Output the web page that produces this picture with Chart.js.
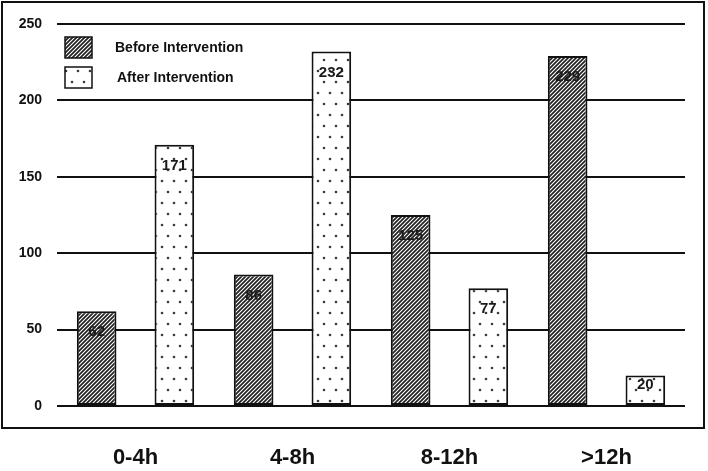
<!DOCTYPE html>
<html>
<head>
<meta charset="utf-8">
<script src="https://cdn.jsdelivr.net/npm/chart.js@4/dist/chart.umd.min.js"></script>
<style>
  html, body { margin: 0; padding: 0; background: #fff; }
  #wrap { width: 708px; height: 471px; position: relative; }
</style>
</head>
<body>
<div id="wrap"><canvas id="c" width="708" height="471"></canvas></div>
<script>
const categories = ["0-4h", "4-8h", "8-12h", ">12h"];
const seriesNames = ["Before Intervention", "After Intervention"];
const beforeValues = [62, 86, 125, 229];
const afterValues = [171, 232, 77, 20];
const yTicks = [0, 50, 100, 150, 200, 250];

function hatchPattern(ctx) {
  const s = 4;
  const c = document.createElement('canvas');
  c.width = s; c.height = s;
  const g = c.getContext('2d');
  g.fillStyle = '#222222';
  g.fillRect(0, 0, s, s);
  g.strokeStyle = '#ffffff';
  g.lineWidth = 1.1;
  g.beginPath();
  g.moveTo(-1, s + 1); g.lineTo(s + 1, -1);
  g.moveTo(-1, 1); g.lineTo(1, -1);
  g.moveTo(s - 1, s + 1); g.lineTo(s + 1, s - 1);
  g.stroke();
  return ctx.createPattern(c, 'repeat');
}
function dotPattern(ctx) {
  const w = 24, h = 22;
  const c = document.createElement('canvas');
  c.width = w; c.height = h;
  const g = c.getContext('2d');
  g.fillStyle = '#ffffff';
  g.fillRect(0, 0, w, h);
  g.fillStyle = '#3a3a3a';
  [[6, 5], [18, 5], [0, 16], [12, 16], [24, 16]].forEach(p => {
    g.beginPath(); g.arc(p[0], p[1], 1.3, 0, Math.PI * 2); g.fill();
  });
  return ctx.createPattern(c, 'repeat');
}

const ctx = document.getElementById('c').getContext('2d');
const hatch = hatchPattern(ctx);
const dots = dotPattern(ctx);

const framePlugin = {
  id: 'frame',
  afterDraw(chart) {
    const c = chart.ctx;
    c.save();
    // outer frame
    c.strokeStyle = '#111';
    c.lineWidth = 2;
    c.strokeRect(2, 2, 702, 426);
    // legend
    const fills = [hatch, dots];
    c.font = 'bold 14px "Liberation Sans", Arial, sans-serif';
    c.textBaseline = 'middle';
    c.textAlign = 'left';
    seriesNames.forEach((name, i) => {
      const y = 37 + i * 30;
      c.fillStyle = fills[i];
      c.fillRect(65, y, 27, 21);
      c.lineWidth = 1.5;
      c.strokeStyle = '#111';
      c.strokeRect(65, y, 27, 21);
      c.fillStyle = '#111';
      c.fillText(name, 115 + i * 2, y + 11);
    });
    // value labels
    c.font = 'bold 15px "Liberation Sans", Arial, sans-serif';
    c.textAlign = 'center';
    c.fillStyle = '#1a1a1a';
    chart.data.datasets.forEach((ds, di) => {
      const meta = chart.getDatasetMeta(di);
      meta.data.forEach((bar, i) => {
        const h = bar.base - bar.y;
        const off = Math.min(21, h / 3);
        c.fillText(String(ds.data[i]), bar.x, bar.y + off);
      });
    });
    c.restore();
  }
};

new Chart(ctx, {
  type: 'bar',
  data: {
    labels: categories,
    datasets: [
      { label: seriesNames[0], data: beforeValues, backgroundColor: hatch,
        borderColor: '#111', borderWidth: 2, borderSkipped: false },
      { label: seriesNames[1], data: afterValues, backgroundColor: dots,
        borderColor: '#111', borderWidth: 2, borderSkipped: false }
    ]
  },
  options: {
    responsive: false,
    animation: false,
    devicePixelRatio: 1,
    layout: { padding: { top: 24, right: 23, bottom: 0, left: 0 } },
    plugins: { legend: { display: false }, tooltip: { enabled: false } },
    datasets: { bar: { categoryPercentage: 0.99, barPercentage: 0.51 } },
    scales: {
      x: {
        afterFit(scale) { scale.height = 65; },
        grid: { display: false, drawTicks: false },
        border: { display: false },
        ticks: {
          padding: 39,
          color: '#111',
          maxRotation: 0,
          font: { family: '"Liberation Sans", Arial, sans-serif', size: 22, weight: 'bold' }
        }
      },
      y: {
        min: 0, max: 250,
        afterFit(scale) { scale.width = 57; },
        afterBuildTicks(scale) { scale.ticks = yTicks.map(v => ({ value: v })); },
        grid: { color: '#111', lineWidth: 2, drawTicks: false },
        border: { display: false },
        ticks: {
          padding: 15,
          color: '#111',
          font: { family: '"Liberation Sans", Arial, sans-serif', size: 14, weight: 'bold' }
        }
      }
    }
  },
  plugins: [framePlugin]
});
</script>
</body>
</html>
